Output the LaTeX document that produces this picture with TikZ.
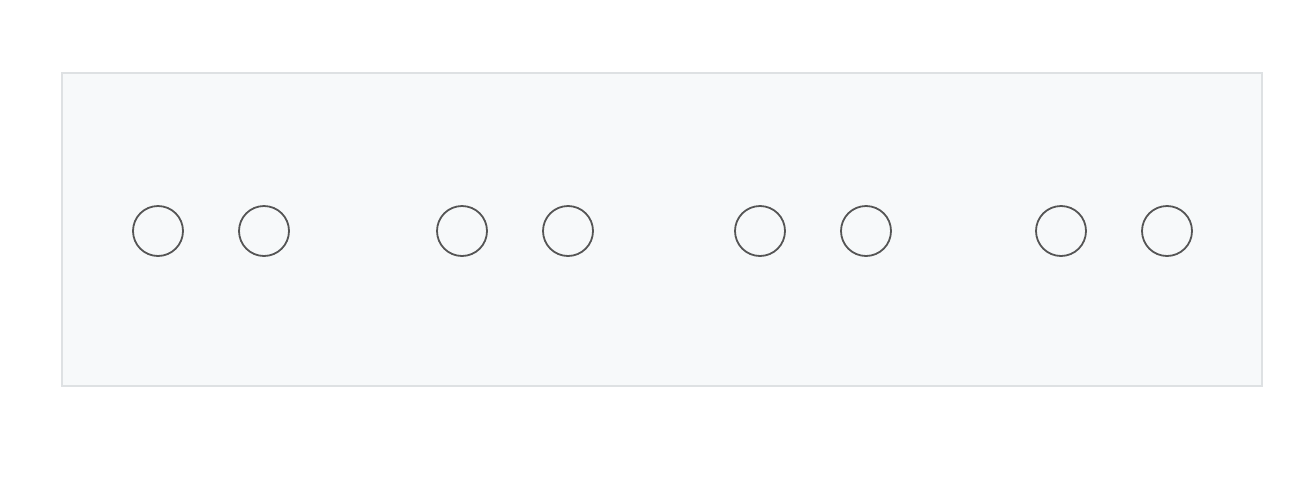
\documentclass[tikz,border=0pt]{standalone}
\definecolor{panelfill}{RGB}{247,249,250}
\definecolor{panelline}{RGB}{222,225,227}
\definecolor{holeline}{RGB}{85,85,85}
\begin{document}
\begin{tikzpicture}[x=1pt,y=-1pt,
  panelbox/.style={draw=panelline, line width=1.5pt, fill=panelfill, inner sep=0pt},
  hole/.style={circle, draw=holeline, line width=1.8pt, minimum size=50pt, inner sep=0pt, fill=panelfill}]
\useasboundingbox (0,0) rectangle (1308,498);
\fill[white] (0,0) rectangle (1308,498);
\node[panelbox, minimum width=1200pt, minimum height=313pt] (panel) at (662,229.5) {};
\foreach \i/\x in {1/158,2/264,3/462,4/568,5/760,6/866,7/1061,8/1167}{
  \node[hole] (c\i) at (\x,231) {};
}
\end{tikzpicture}
\end{document}
